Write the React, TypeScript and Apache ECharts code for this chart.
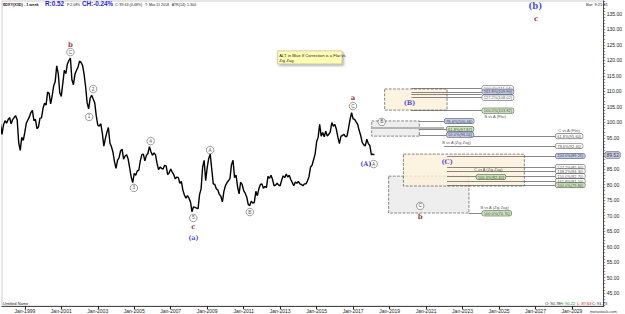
import React, { useEffect, useRef } from "react";
import * as echarts from "echarts";

// Monthly closes of the US Dollar Index, Sep 1997 .. Mar 2018
const startYear = 1997;
const startMonth = 9;
const monthlyCloses = [
  99.4, 96.2, 99.2, 100.6,
  99.8, 100.9, 101.6, 99.6, 100.9, 101.6, 102.2, 100.8, 93.4, 91.0, 95.2, 94.2,
  96.8, 99.8, 100.8, 101.8, 103.2, 103.9, 100.6, 101.0, 98.0, 98.6, 101.4, 101.5,
  104.6, 106.2, 105.6, 109.8, 109.4, 106.0, 108.6, 111.8, 113.2, 118.3, 115.8, 109.6,
  108.4, 112.6, 116.8, 115.8, 118.8, 120.0, 120.8, 113.8, 112.2, 115.6, 116.8, 117.8,
  119.8, 119.4, 118.4, 115.6, 111.6, 106.4, 104.4, 107.8, 108.8, 107.6, 106.4, 102.2,
  99.2, 98.8, 99.6, 96.6, 92.4, 94.8, 96.8, 98.4, 93.4, 92.2, 90.4, 87.4,
  85.2, 87.8, 88.6, 90.8, 91.4, 88.2, 89.2, 89.6, 88.2, 85.4, 82.4, 80.6,
  83.6, 83.0, 84.4, 84.6, 87.6, 89.6, 89.8, 87.6, 89.4, 90.0, 92.2, 90.6,
  89.4, 90.2, 89.6, 86.8, 84.8, 85.6, 85.2, 85.0, 86.2, 86.0, 83.2, 83.8,
  85.0, 84.0, 83.2, 81.8, 82.4, 82.2, 80.4, 81.0, 78.2, 76.6, 75.6, 76.4,
  75.6, 74.4, 71.2, 72.8, 72.6, 72.4, 72.2, 76.8, 78.6, 85.6, 87.8, 81.2,
  85.4, 88.4, 89.8, 85.0, 80.2, 80.0, 78.6, 78.2, 76.8, 76.2, 74.4, 77.8,
  79.6, 80.6, 81.2, 82.0, 86.4, 87.8, 82.2, 83.0, 79.2, 77.0, 80.8, 80.0,
  78.0, 77.2, 76.0, 73.6, 73.2, 74.6, 74.0, 74.2, 77.8, 76.4, 78.6, 80.0,
  80.2, 78.8, 79.4, 79.0, 82.6, 82.0, 83.0, 81.6, 79.6, 79.8, 80.4, 79.8,
  79.6, 81.4, 82.8, 82.2, 83.4, 82.4, 83.0, 81.6, 80.6, 79.6, 80.8, 80.4,
  81.0, 80.2, 80.0, 79.6, 80.2, 80.2, 81.2, 82.6, 85.6, 86.2, 88.0, 89.8,
  93.8, 95.2, 99.4, 95.6, 96.8, 95.4, 97.2, 95.6, 96.2, 97.0, 100.0, 98.8,
  99.4, 97.8, 95.2, 93.2, 95.6, 95.8, 96.2, 95.4, 95.6, 98.2, 101.0, 103.2,
  101.2, 101.0, 100.2, 99.4, 97.4, 95.8, 93.6, 92.8, 92.4, 94.6, 93.2, 92.6,
  89.6, 89.8, 89.52,
];

const lastPrice = 89.52;
const yLabelValues = [45, 50, 55, 60, 65, 70, 75, 80, 85, 90, 95, 100, 105, 110, 115, 120, 125, 130, 135];
const yTickValues = Array.from({ length: 99 }, (_, i) => 41 + i);
const xLabelYears = [1999, 2001, 2003, 2005, 2007, 2009, 2011, 2013, 2015, 2017, 2019, 2021, 2023, 2025, 2027, 2029];

// Elliott wave labels: [text, year, price]
const circledLabels: [string, number, number][] = [
  ["C", 2001.5, 122.7], ["2", 2002.75, 110.8], ["1", 2002.53, 101.8], ["4", 2005.9, 94.0],
  ["3", 2004.98, 78.9], ["5", 2008.24, 69.2], ["A", 2009.16, 91.1], ["B", 2011.34, 71.1],
  ["C", 2016.99, 105.3], ["A", 2018.13, 86.6], ["B", 2018.57, 100.2], ["C", 2020.68, 73.1],
];
const redLabels: [string, number, number][] = [
  ["b", 2001.5, 125.3], ["c", 2008.24, 66.3], ["a", 2016.99, 108.2], ["b", 2020.68, 69.8], ["c", 2027.04, 133.4],
];
const blueLabels: [string, number, number][] = [
  ["(a)", 2008.24, 62.7], ["(A)", 2017.7, 86.6], ["(B)", 2020.09, 106.3], ["(C)", 2022.15, 87.3],
];
const bigBlueLabels: [string, number, number][] = [["(b)", 2026.99, 137.6]];

// Projection boxes: [x1, y1, x2, y2, kind]
const boxes: [number, number, number, number, string][] = [
  [2018.02, 100.5, 2020.63, 95.6, "gray"],
  [2018.95, 82.7, 2023.35, 70.8, "gray"],
  [2019.76, 89.8, 2026.39, 79.5, "beige"],
  [2018.73, 110.8, 2022.15, 104.0, "beige"],
];
const noteBox = [2012.86, 123.1, 2016.39, 118.9];
const noteText = "ALT in Blue If Correction is a Flat vs\nZig Zag";

// Projection lines: [x1, x2, price, kind]
const projLines: [number, number, number, string][] = [
  [2020.2, 2024.05, 111.04, "n"], [2020.2, 2024.05, 109.9, "n"], [2020.2, 2024.05, 109.12, "n"],
  [2020.2, 2024.05, 108.02, "n"], [2020.2, 2024.05, 103.82, "n"],
  [2018.02, 2021.99, 98.45, "thick"],
  [2020.63, 2021.99, 100.46, "n"], [2020.63, 2022.1, 97.87, "n"], [2020.63, 2022.1, 96.04, "n"],
  [2023.35, 2028.08, 95.6, "n"], [2021.99, 2028.08, 92.4, "n"],
  [2022.15, 2028.08, 89.2, "n"], [2022.15, 2028.08, 85.6, "n"], [2022.15, 2028.08, 84.3, "n"],
  [2022.15, 2028.08, 82.7, "n"], [2022.15, 2028.08, 81.1, "n"], [2022.15, 2028.08, 79.8, "n"],
  [2023.35, 2024.05, 70.7, "n"],
];

// Target tags: [x (left edge), price, text, kind]
const tags: [number, number, string, string][] = [
  [2024.05, 111.04, "100.0%(111.04)", "w"], [2024.05, 109.9, "161.8%(109.90)", "b"],
  [2024.05, 108.02, "127.2%(108.02)", "w"], [2024.05, 103.82, "100.0%(103.82)", "g"],
  [2021.99, 100.46, "78.6%(100.46)", "b"], [2022.1, 97.87, "61.8%(97.87)", "g"],
  [2022.1, 96.04, "50.0%(96.04)", "b"],
  [2028.08, 95.6, "61.8%(95.60)", "w"], [2028.08, 92.4, "78.6%(92.40)", "w"],
  [2028.08, 89.2, "100.0%(89.20)", "b"], [2028.08, 85.6, "127.2%(85.60)", "w"],
  [2028.08, 84.3, "138.2%(84.30)", "w"], [2028.08, 82.7, "150.0%(82.70)", "w"],
  [2028.08, 81.1, "161.8%(81.10)", "w"], [2028.08, 79.8, "100.0%(79.80)", "g"],
  [2023.73, 82.4, "100.0%(82.40)", "g"], [2024.05, 70.7, "100.0%(70.70)", "g"],
];
const captions: [string, number, number][] = [
  ["B vs A (Flat)", 2024.79, 101.8], ["B vs A (Zig Zag)", 2022.67, 93.7],
  ["C vs A (Flat)", 2028.84, 97.3], ["C vs A (Zig Zag)", 2024.41, 84.7],
  ["B vs A (Zig Zag)", 2024.76, 72.7],
];

const tagBg: Record<string, string> = { w: "#ffffff", b: "#b8c2ee", g: "#c4e6b0" };

export default function App() {
  const ref = useRef<HTMLDivElement>(null);
  useEffect(() => {
    if (!ref.current) return;
    const chart = echarts.init(ref.current, undefined, { renderer: "svg" });
    const lineData = monthlyCloses.map((v, i) => [startYear + (startMonth - 1 + i) / 12, v]);
    const labelFont = "Arial";
    chart.setOption({
      animation: false,
      backgroundColor: "#ffffff",
      grid: { left: 2, right: 16, top: 1, bottom: 8, show: true, borderColor: "#999", borderWidth: 0.5 },
      xAxis: {
        type: "value", min: 1997.75, max: 2030.74,
        splitLine: { show: false },
        axisLine: { lineStyle: { color: "#222", width: 0.8 } },
        axisTick: { customValues: xLabelYears, length: 3, lineStyle: { color: "#222" } },
        axisLabel: {
          customValues: xLabelYears, formatter: (v: number) => "Jan-" + Math.round(v),
          fontSize: 5, color: "#222", margin: 2, fontFamily: labelFont,
        },
      },
      yAxis: {
        type: "value", position: "right", min: 40.81, max: 139.19,
        splitLine: { show: false },
        axisLine: { show: true, lineStyle: { color: "#222", width: 0.8 } },
        axisTick: { customValues: yTickValues, length: 1.5, lineStyle: { color: "#444", width: 0.6 } },
        axisLabel: {
          customValues: yLabelValues, formatter: (v: number) => v.toFixed(2),
          fontSize: 5, color: "#222", margin: 3, fontFamily: labelFont,
        },
      },
      series: [
        {
          type: "line", data: lineData, symbol: "none", z: 3,
          lineStyle: { color: "#000", width: 1.4 },
          markArea: {
            silent: true,
            data: [
              ...boxes.map((b) => [
                {
                  coord: [b[0], b[1]],
                  itemStyle: {
                    color: b[4] === "gray" ? "rgba(236,236,236,0.9)" : "rgba(253,240,218,0.8)",
                    borderColor: "#555", borderWidth: 0.7, borderType: "dashed",
                  },
                  label: { show: false },
                },
                { coord: [b[2], b[3]] },
              ]),
              [
                {
                  coord: [noteBox[0], noteBox[1]],
                  itemStyle: {
                    color: "#ffffb3", borderColor: "#b5b58a", borderWidth: 0.6,
                    shadowColor: "rgba(0,0,0,0.35)", shadowBlur: 2, shadowOffsetX: 1.5, shadowOffsetY: 1.5,
                  },
                  label: {
                    show: true, position: "insideTopLeft", distance: 2, formatter: noteText,
                    fontSize: 4.2, color: "#222", fontFamily: labelFont, lineHeight: 5,
                  },
                },
                { coord: [noteBox[2], noteBox[3]] },
              ],
            ],
          },
          markLine: {
            silent: true, symbol: ["none", "none"], label: { show: false },
            data: projLines.map((l) => [
              {
                coord: [l[0], l[2]],
                lineStyle: l[3] === "thick"
                  ? { color: "#b4b4b4", width: 2, type: "solid" }
                  : { color: "#555", width: 0.7, type: "solid" },
              },
              { coord: [l[1], l[2]] },
            ]),
          },
        },
        {
          type: "scatter", clip: false, z: 6, symbol: "circle", symbolSize: 7.5,
          itemStyle: { color: "#ffffff", borderColor: "#333", borderWidth: 0.6 },
          label: {
            show: true, position: "inside", formatter: (p: any) => p.data[2],
            fontSize: 4.8, color: "#222", fontFamily: labelFont,
          },
          data: circledLabels.map((c) => [c[1], c[2], c[0]]),
        },
        {
          type: "scatter", clip: false, z: 6, symbolSize: 1,
          itemStyle: { color: "transparent" },
          label: {
            show: true, position: "inside", formatter: (p: any) => p.data[2],
            fontSize: 7, fontWeight: "bold", color: "#7a0a0a", fontFamily: "DejaVu Serif",
          },
          data: redLabels.map((c) => [c[1], c[2], c[0]]),
        },
        {
          type: "scatter", clip: false, z: 6, symbolSize: 1,
          itemStyle: { color: "transparent" },
          label: {
            show: true, position: "inside", formatter: (p: any) => p.data[2],
            fontSize: 6.5, fontWeight: "bold", color: "#1a1ad6", fontFamily: "DejaVu Serif",
          },
          data: blueLabels.map((c) => [c[1], c[2], c[0]]),
        },
        {
          type: "scatter", clip: false, z: 6, symbolSize: 1,
          itemStyle: { color: "transparent" },
          label: {
            show: true, position: "inside", formatter: (p: any) => p.data[2],
            fontSize: 8.5, fontWeight: "bold", color: "#1a1ad6", fontFamily: "DejaVu Serif",
          },
          data: bigBlueLabels.map((c) => [c[1], c[2], c[0]]),
        },
        {
          type: "scatter", clip: false, z: 7, symbolSize: 1,
          itemStyle: { color: "transparent" },
          data: tags.map((t) => ({
            value: [t[0], t[1], t[2]],
            label: {
              show: true, position: "right", distance: 0, formatter: t[2],
              fontSize: 4, color: "#111", fontFamily: labelFont,
              backgroundColor: tagBg[t[3]], borderColor: "#333", borderWidth: 0.5,
              borderRadius: 1.5, padding: [0.6, 1.5, 0.3, 1.5],
            },
          })),
        },
        {
          type: "scatter", clip: false, z: 7, symbolSize: 1,
          itemStyle: { color: "transparent" },
          label: {
            show: true, position: "inside", formatter: (p: any) => p.data[2],
            fontSize: 4, color: "#222", fontFamily: labelFont,
          },
          data: captions.map((c) => [c[1], c[2], c[0]]),
        },
        {
          type: "scatter", clip: false, z: 8, symbolSize: 1,
          itemStyle: { color: "transparent" },
          data: [{
            value: [2030.74, lastPrice],
            label: {
              show: true, position: "right", distance: 1, formatter: lastPrice.toFixed(2),
              fontSize: 5, color: "#111", fontFamily: labelFont,
              backgroundColor: "#c4cbee", borderColor: "#333", borderWidth: 0.5,
              borderRadius: 1.5, padding: [0.8, 1.2, 0.4, 1.2],
            },
          }],
        },
      ],
      graphic: [
        { type: "text", left: 3, top: 2.5, style: { text: "$DXY(X3D) - 1 week", font: "bold 3.8px Arial", fill: "#111" } },
        { type: "text", left: 45, top: 0.8, style: { text: "R:0.52", font: "bold 6.3px Arial", fill: "#1c1cf0" } },
        { type: "text", left: 67, top: 2.5, style: { text: "P:2.08%", font: "3.5px Arial", fill: "#222" } },
        { type: "text", left: 82, top: 0.8, style: { text: "CH:-0.24%", font: "bold 6.3px Arial", fill: "#1c1cf0" } },
        { type: "text", left: 115, top: 2.5, style: { text: "C: 89.63 (0.48%)   T: Mar-11 2018   ATR(14): 1.304", font: "3.6px Arial", fill: "#222" } },
        { type: "text", left: 586, top: 2, style: { text: "Bar: 9:21:31", font: "4px Arial", fill: "#222" } },
        { type: "text", left: 3, top: 301, style: { text: "Untitled Name", font: "4px Arial", fill: "#222" } },
        { type: "text", left: 545, top: 301, style: { text: "O: 90.78", font: "4px Arial", fill: "#222" } },
        { type: "text", left: 560, top: 301, style: { text: "H: 90.22", font: "4px Arial", fill: "#1a8a1a" } },
        { type: "text", left: 577, top: 301, style: { text: "L: 87.63", font: "4px Arial", fill: "#d01010" } },
        { type: "text", left: 592, top: 301, style: { text: "C: 91.73", font: "4px Arial", fill: "#222" } },
        { type: "text", left: 590, top: 309, style: { text: "metastock.com", font: "4px Arial", fill: "#333" } },
      ],
    });
    return () => chart.dispose();
  }, []);
  return (
    <div
      ref={ref}
      style={{ position: "fixed", left: 0, top: 0, width: 625, height: 314, background: "#fff" }}
    />
  );
}
